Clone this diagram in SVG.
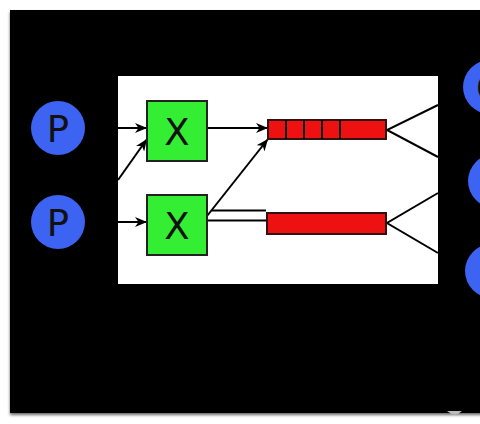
<svg xmlns="http://www.w3.org/2000/svg" width="480" height="424" viewBox="0 0 480 424">
<defs>
<marker id="arr" viewBox="0 0 12 10" refX="12" refY="5" markerWidth="12" markerHeight="10" orient="auto" markerUnits="userSpaceOnUse">
<path d="M0,0 L12,5 L0,10 L3.5,5 z" fill="#000"/>
</marker>
<filter id="sh" x="-5%" y="-5%" width="110%" height="110%">
<feGaussianBlur in="SourceAlpha" stdDeviation="1.5"/>
<feOffset dx="0" dy="2"/>
<feComponentTransfer><feFuncA type="linear" slope="0.6"/></feComponentTransfer>
<feMerge><feMergeNode/><feMergeNode in="SourceGraphic"/></feMerge>
</filter>
</defs>
<style>
.ln{stroke:#000;stroke-width:2;fill:none}
.circ{fill:#3d63f2}
.ex{fill:#33ee33;stroke:#222;stroke-width:2}
.q{fill:#ee1111;stroke:#331111;stroke-width:2}
.lbl{font-family:"DejaVu Sans","Liberation Sans",sans-serif;font-size:37px;fill:#111;text-anchor:middle}
</style>
<rect x="0" y="0" width="480" height="424" fill="#fff"/>
<rect x="10" y="10" width="475" height="403" fill="#000" filter="url(#sh)"/>
<path d="M447,411 L462,411 Q455,418 447,411 z" fill="#bbb"/>
<rect x="118" y="76" width="320" height="208" fill="#fff"/>
<g id="connectors">
<line class="ln" x1="118" y1="128" x2="147" y2="128" marker-end="url(#arr)"/>
<line class="ln" x1="118" y1="180" x2="147" y2="139" marker-end="url(#arr)"/>
<line class="ln" x1="118" y1="222" x2="147" y2="222" marker-end="url(#arr)"/>
<line class="ln" x1="207" y1="128" x2="268" y2="128" marker-end="url(#arr)"/>
<line class="ln" x1="207" y1="216" x2="268" y2="139" marker-end="url(#arr)"/>
<line class="ln" x1="212" y1="210.5" x2="266" y2="210.5"/>
<line class="ln" x1="207" y1="220.5" x2="266" y2="220.5"/>
<polyline class="ln" points="438,105 387,130 438,157"/>
<polyline class="ln" points="438,193 387,223 438,253"/>
</g>
<g id="p1"><circle class="circ" cx="58" cy="128" r="27"/><text class="lbl" x="58" y="142">P</text></g>
<g id="p2"><circle class="circ" cx="58" cy="222" r="27"/><text class="lbl" x="58" y="236">P</text></g>
<g id="x1"><rect class="ex" x="147" y="101" width="60" height="60"/><text class="lbl" x="177" y="145">X</text></g>
<g id="x2"><rect class="ex" x="147" y="195" width="60" height="60"/><text class="lbl" x="177" y="239">X</text></g>
<g id="q1">
<rect class="q" x="268" y="120" width="118" height="19"/>
<path class="ln" d="M286,120 V139 M304,120 V139 M322,120 V139 M340,120 V139" stroke="#331111"/>
</g>
<g id="q2"><rect class="q" x="267" y="213" width="119" height="21"/></g>
<g id="c1"><circle class="circ" cx="490" cy="87" r="27"/><text class="lbl" x="489" y="101">C</text></g>
<g id="c2"><circle class="circ" cx="495" cy="181" r="27"/></g>
<g id="c3"><circle class="circ" cx="492" cy="271" r="27"/></g>
</svg>
